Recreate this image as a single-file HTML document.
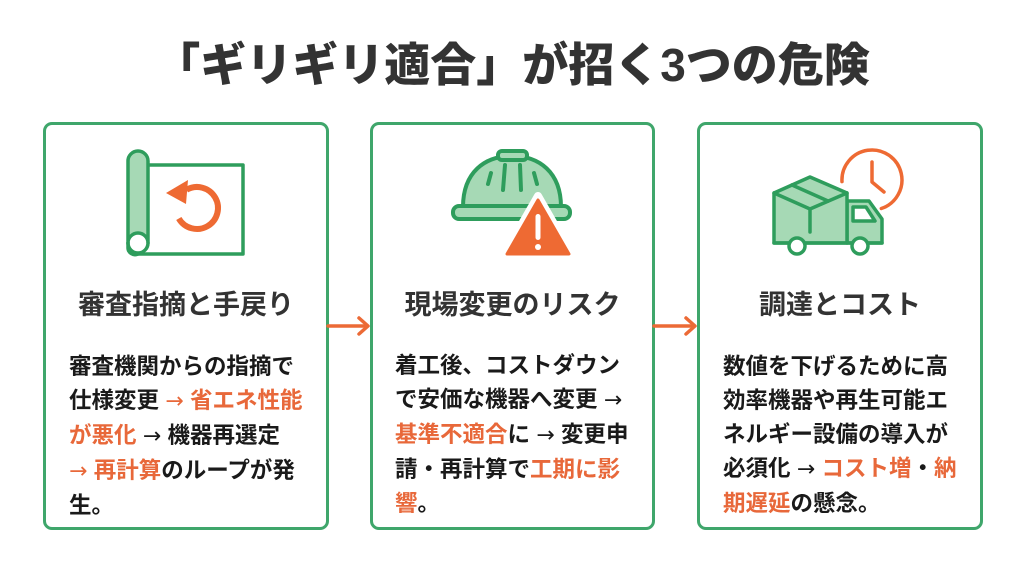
<!DOCTYPE html>
<html lang="ja">
<head>
<meta charset="utf-8">
<style>
  html,body{margin:0;padding:0;}
  body{width:1024px;height:571px;position:relative;background:#ffffff;overflow:hidden;
       font-family:"Liberation Sans","Noto Sans CJK JP",sans-serif;}
  .title{position:absolute;left:0;top:36px;width:1024px;text-align:center;font-size:46px;font-weight:900;
         color:#333333;line-height:58px;white-space:nowrap;letter-spacing:0px;}
  .card{position:absolute;top:122px;height:402px;border:3px solid #3fa66b;border-radius:9px;background:#fff;box-sizing:content-box;}
  .head{position:absolute;width:100%;left:0;text-align:center;top:163px;font-size:27px;font-weight:700;color:#333;line-height:34px;white-space:nowrap;}
  .body{position:absolute;font-size:22.5px;font-weight:700;color:#1a1a1a;line-height:34px;white-space:nowrap;}
  .o{color:#e8683a;}
  .a{font-family:"DejaVu Sans",sans-serif;font-weight:400;font-size:22px;}
  svg{position:absolute;left:0;top:0;}
</style>
</head>
<body>
<div class="title">「ギリギリ適合」が招く3つの危険</div>

<div class="card" style="left:43px;width:280px;">
  <div class="head">審査指摘と手戻り</div>
</div>
<div class="card" style="left:370px;width:279px;">
  <div class="head">現場変更のリスク</div>
</div>
<div class="card" style="left:697px;width:280px;">
  <div class="head">調達とコスト</div>
</div>

<div class="body" style="left:69px;top:350px;">審査機関からの指摘で<br>仕様変更 <span class="o"><span class="a">→</span> 省エネ性能</span><br><span class="o">が悪化</span> <span class="a">→</span> 機器再選定<br><span class="o"><span class="a">→</span> 再計算</span>のループが発<br>生。</div>

<div class="body" style="left:395px;top:349px;">着工後、コストダウン<br>で安価な機器へ変更 <span class="a">→</span><br><span class="o">基準不適合</span>に <span class="a">→</span> 変更申<br>請・再計算で<span class="o">工期に影</span><br><span class="o">響</span>。</div>

<div class="body" style="left:723px;top:350px;">数値を下げるために高<br>効率機器や再生可能エ<br>ネルギー設備の導入が<br>必須化 <span class="a">→</span> <span class="o">コスト増</span>・<span class="o">納</span><br><span class="o">期遅延</span>の懸念。</div>

<svg width="1024" height="571" viewBox="0 0 1024 571">
  <!-- connectors -->
  <g stroke="#ec6a36" stroke-width="3.5" fill="none" stroke-linecap="round" stroke-linejoin="round">
    <line x1="328" y1="326" x2="367" y2="326"/>
    <polyline points="359,318 368,326 359,334"/>
    <line x1="654" y1="326" x2="694" y2="326"/>
    <polyline points="686,318 695,326 686,334"/>
  </g>

  <!-- Card 1 icon: scroll with undo arrow -->
  <g stroke="#2e9d5c" stroke-width="3.5" stroke-linejoin="round" stroke-linecap="round">
    <path d="M148,165 H243 V254 H138" fill="#ffffff"/>
    <path d="M128,161 A10,10 0 0 1 148,161 V243 A10,10 0 0 0 128,243 Z" fill="#a6d9b5"/>
    <path d="M128,243 A10,10 0 1 0 148,243" fill="#ffffff"/>
    <path d="M128,243 V248 A7,7 0 0 0 138,254" fill="none"/>
  </g>
  <g>
    <path d="M186.5,189.8 A21,21 0 1 1 178.8,218.5" fill="none" stroke="#ee6a33" stroke-width="6"/>
    <polygon points="166,193 188,180 186,204" fill="#ee6a33"/>
  </g>

  <!-- Card 2 icon: helmet with warning -->
  <g stroke="#2e9d5c" stroke-width="4" stroke-linejoin="round" stroke-linecap="round">
    <path d="M463,207 C463,172 485,156 512,156 C539,156 561,172 561,207 Z" fill="#a6d9b5"/>
    <rect x="498" y="151" width="29" height="9" rx="4" fill="#a6d9b5"/>
    <line x1="491" y1="173" x2="488" y2="184"/>
    <line x1="505" y1="165" x2="503" y2="190"/>
    <line x1="520" y1="165" x2="521" y2="190"/>
    <line x1="534" y1="173" x2="537" y2="184"/>
    <rect x="453" y="206" width="117" height="13" rx="6" fill="#a6d9b5"/>
  </g>
  <g>
    <path d="M538,196 L573,257 L503,257 Z" fill="#ffffff" stroke="#ffffff" stroke-width="8" stroke-linejoin="round"/>
    <path d="M538,200 L569,254 L507,254 Z" fill="#ee6a33" stroke="#ee6a33" stroke-width="3" stroke-linejoin="round"/>
    <rect x="535.5" y="214" width="5" height="26" rx="2.5" fill="#ffffff"/>
    <circle cx="538" cy="247" r="3" fill="#ffffff"/>
  </g>

  <!-- Card 3 icon: truck with clock -->
  <g fill="none" stroke="#ee6a33" stroke-width="3.5" stroke-linecap="round" stroke-linejoin="round">
    <path d="M842,181.6 A30,30 0 1 1 881.3,208.5"/>
    <polyline points="872,162 872,182 884,192"/>
  </g>
  <g stroke="#2e9d5c" stroke-width="3.5" stroke-linejoin="round" stroke-linecap="round">
    <path d="M847,201 H869 L882,219 V243 H847 Z" fill="#a6d9b5"/>
    <path d="M853,207 H866 L875,221 H853 Z" fill="#ffffff"/>
    <path d="M774,193 L810,177 L847,193 V243 H774 Z" fill="#a6d9b5"/>
    <polyline points="774,193 810,209 847,193" fill="none"/>
    <line x1="810" y1="209" x2="810" y2="232"/>
    <line x1="792" y1="185" x2="828" y2="201"/>
    <line x1="774" y1="243" x2="882" y2="243"/>
    <circle cx="797" cy="246" r="8" fill="#ffffff"/>
    <circle cx="860" cy="246" r="8" fill="#ffffff"/>
  </g>
</svg>
</body>
</html>
